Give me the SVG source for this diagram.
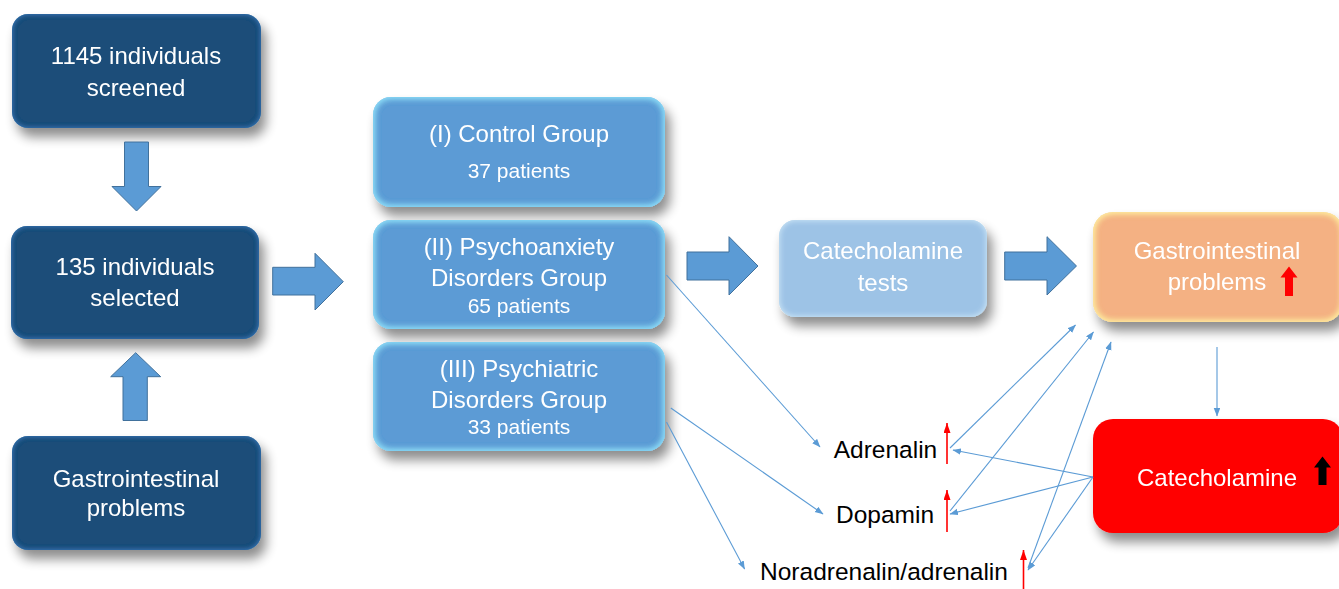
<svg xmlns="http://www.w3.org/2000/svg" width="1339" height="589" viewBox="0 0 1339 589">
<style>
  text { font-family: "Liberation Sans", Arial, sans-serif; }
  .t { font-size: 24px; fill: #ffffff; text-anchor: middle; }
  .s { font-size: 21px; fill: #ffffff; text-anchor: middle; }
  .lab { font-size: 24.5px; fill: #000000; text-anchor: middle; }
  .dark { fill: #1F4E79; filter: url(#igd); }
  .grp { fill: #5B9BD5; filter: url(#igc); }
  .tests { fill: #9DC3E6; filter: url(#igt); }
  .gi { fill: #F4B183; filter: url(#igy); }
  .cat { fill: #FF0000; }
  .blk { fill: #5B9BD5; stroke: #41719C; stroke-width: 1; }
  .ln { stroke: #5B9BD5; stroke-width: 1.1; fill: none; marker-end: url(#bh); }
  .rl { stroke: #FF0000; stroke-width: 1.6; fill: none; marker-end: url(#rh); }
</style>
<defs>
  <filter id="sh" x="-20%" y="-20%" width="150%" height="160%">
    <feGaussianBlur in="SourceAlpha" stdDeviation="6"/>
    <feOffset dx="5" dy="9" result="b"/>
    <feComponentTransfer><feFuncA type="linear" slope="0.45"/></feComponentTransfer>
    <feMerge><feMergeNode/><feMergeNode in="SourceGraphic"/></feMerge>
  </filter>
  <filter id="igc" x="-5%" y="-5%" width="110%" height="110%">
    <feGaussianBlur in="SourceAlpha" stdDeviation="3.5" result="b"/>
    <feComposite in="SourceAlpha" in2="b" operator="out" result="edge"/>
    <feFlood flood-color="#8FE0FA"/>
    <feComposite in2="edge" operator="in" result="glow"/>
    <feMerge><feMergeNode in="SourceGraphic"/><feMergeNode in="glow"/><feMergeNode in="glow"/></feMerge>
  </filter>
  <filter id="igt" x="-5%" y="-5%" width="110%" height="110%">
    <feGaussianBlur in="SourceAlpha" stdDeviation="3" result="b"/>
    <feComposite in="SourceAlpha" in2="b" operator="out" result="edge"/>
    <feFlood flood-color="#D2ECFA"/>
    <feComposite in2="edge" operator="in" result="glow"/>
    <feMerge><feMergeNode in="SourceGraphic"/><feMergeNode in="glow"/></feMerge>
  </filter>
  <filter id="igy" x="-5%" y="-5%" width="110%" height="110%">
    <feGaussianBlur in="SourceAlpha" stdDeviation="3.5" result="b"/>
    <feComposite in="SourceAlpha" in2="b" operator="out" result="edge"/>
    <feFlood flood-color="#FFEFA0"/>
    <feComposite in2="edge" operator="in" result="glow"/>
    <feMerge><feMergeNode in="SourceGraphic"/><feMergeNode in="glow"/><feMergeNode in="glow"/></feMerge>
  </filter>
  <filter id="igd" x="-5%" y="-5%" width="110%" height="110%">
    <feGaussianBlur in="SourceAlpha" stdDeviation="2.5" result="b"/>
    <feComposite in="SourceAlpha" in2="b" operator="out" result="edge"/>
    <feFlood flood-color="#3A7CC0"/>
    <feComposite in2="edge" operator="in" result="glow"/>
    <feMerge><feMergeNode in="SourceGraphic"/><feMergeNode in="glow"/></feMerge>
  </filter>
  <marker id="bh" markerUnits="userSpaceOnUse" markerWidth="9" markerHeight="7" refX="8" refY="3.25" orient="auto">
    <path d="M0,0 L8.5,3.25 L0,6.5 z" fill="#5B9BD5"/>
  </marker>
  <marker id="rh" markerUnits="userSpaceOnUse" markerWidth="11" markerHeight="8" refX="10" refY="3.5" orient="auto">
    <path d="M0,0 L10,3.5 L0,7 z" fill="#FF0000"/>
  </marker>
</defs>

<g id="n-screened" filter="url(#sh)">
  <rect class="dark" x="12" y="14" width="249" height="114" rx="16"/>
  <text class="t" x="136" y="64">1145 individuals</text>
  <text class="t" x="136" y="96">screened</text>
</g>
<g id="n-selected" filter="url(#sh)">
  <rect class="dark" x="11" y="226" width="248" height="113" rx="16"/>
  <text class="t" x="135" y="275">135 individuals</text>
  <text class="t" x="135" y="306">selected</text>
</g>
<g id="n-gi-left" filter="url(#sh)">
  <rect class="dark" x="12" y="436" width="249" height="114" rx="16"/>
  <text class="t" x="136" y="487">Gastrointestinal</text>
  <text class="t" x="136" y="516">problems</text>
</g>

<g id="n-control" filter="url(#sh)">
  <rect class="grp" x="373" y="97" width="292" height="110" rx="18"/>
  <text class="t" x="519" y="142">(I) Control Group</text>
  <text class="s" x="519" y="178">37 patients</text>
</g>
<g id="n-psychoanxiety" filter="url(#sh)">
  <rect class="grp" x="373" y="220" width="292" height="109" rx="18"/>
  <text class="t" x="519" y="255">(II) Psychoanxiety</text>
  <text class="t" x="519" y="286">Disorders Group</text>
  <text class="s" x="519" y="313">65 patients</text>
</g>
<g id="n-psychiatric" filter="url(#sh)">
  <rect class="grp" x="373" y="342" width="292" height="109" rx="18"/>
  <text class="t" x="519" y="377">(III) Psychiatric</text>
  <text class="t" x="519" y="408">Disorders Group</text>
  <text class="s" x="519" y="434">33 patients</text>
</g>

<g id="n-tests" filter="url(#sh)">
  <rect class="tests" x="779" y="220" width="208" height="97" rx="16"/>
  <text class="t" x="883" y="259">Catecholamine</text>
  <text class="t" x="883" y="291">tests</text>
</g>

<g id="n-gi-right" filter="url(#sh)">
  <rect class="gi" x="1093" y="212" width="250" height="110" rx="20"/>
  <text class="t" x="1217" y="259">Gastrointestinal</text>
  <text class="t" x="1217" y="290">problems</text>
  <path d="M1289,266.5 L1297.5,277.5 L1293,277.5 L1293,296 L1285,296 L1285,277.5 L1280.5,277.5 z" fill="#FF0000"/>
</g>

<g id="n-catecholamine" filter="url(#sh)">
  <rect class="cat" x="1093" y="419" width="250" height="114" rx="20"/>
  <text class="t" x="1217" y="486">Catecholamine</text>
  <path d="M1322.5,456.5 L1331,467.5 L1326.5,467.5 L1326.5,485 L1318.5,485 L1318.5,467.5 L1314,467.5 z" fill="#000000"/>
</g>

<g id="n-adrenalin">
  <text class="lab" x="885.5" y="458">Adrenalin</text>
  <line class="rl" x1="947" y1="464" x2="947" y2="423"/>
</g>
<g id="n-dopamin">
  <text class="lab" x="885" y="523">Dopamin</text>
  <line class="rl" x1="947" y1="532" x2="947" y2="490"/>
</g>
<g id="n-noradrenalin">
  <text class="lab" x="884" y="580">Noradrenalin/adrenalin</text>
  <line class="rl" x1="1023.5" y1="589" x2="1023.5" y2="550"/>
</g>

<g id="connectors">
  <path class="blk" d="M124.5,142 L148.5,142 L148.5,186.5 L161,186.5 L136.5,211 L112,186.5 L124.5,186.5 z"/>
  <path class="blk" d="M123,420.5 L147.3,420.5 L147.3,376.7 L160.7,376.7 L135.7,352.7 L110.7,376.7 L123,376.7 z"/>
  <path class="blk" d="M272.7,267.3 L315,267.3 L315,253.3 L343.3,281.7 L315,310 L315,295 L272.7,295 z"/>
  <path class="blk" d="M687,252 L729,252 L729,236.7 L758,266 L729,295 L729,280 L687,280 z"/>
  <path class="blk" d="M1004.7,252 L1047,252 L1047,236.7 L1076.5,266 L1047,295 L1047,280 L1004.7,280 z"/>

  <line class="ln" x1="666.5" y1="275" x2="820" y2="447"/>
  <line class="ln" x1="670.8" y1="408" x2="823" y2="514"/>
  <line class="ln" x1="666.5" y1="422" x2="744.6" y2="569"/>
  <line class="ln" x1="1217" y1="347" x2="1217" y2="416"/>
  <line class="ln" x1="1093" y1="477" x2="953" y2="450"/>
  <line class="ln" x1="1093" y1="477" x2="950" y2="514"/>
  <line class="ln" x1="1093" y1="477" x2="1028" y2="570"/>
  <line class="ln" x1="950" y1="448" x2="1075.5" y2="325"/>
  <line class="ln" x1="950" y1="511" x2="1093.5" y2="332"/>
  <line class="ln" x1="1028" y1="568" x2="1111" y2="342"/>
</g>
</svg>
